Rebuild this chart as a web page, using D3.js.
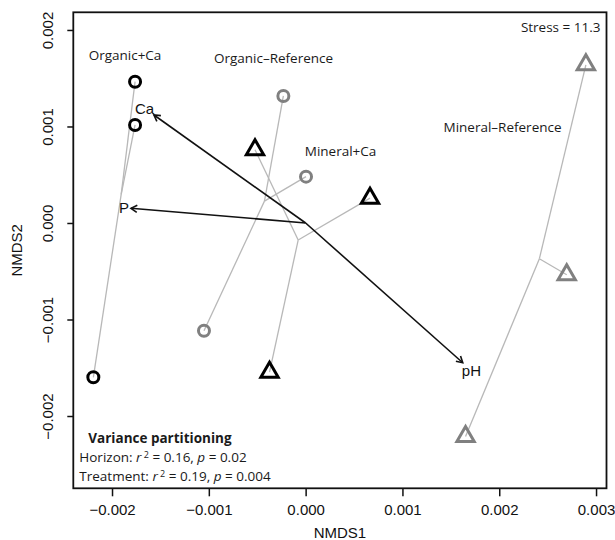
<!DOCTYPE html>
<html><head><meta charset="utf-8">
<script src="https://cdn.jsdelivr.net/npm/d3@7"></script>
<style>html,body{margin:0;padding:0;background:#fff}</style>
</head><body><svg id="c" width="615" height="540"></svg>
<script>
// ---------- data ----------
const groupNames = ["Organic+Ca", "Organic–Reference", "Mineral+Ca", "Mineral–Reference"];
const sampleGroup = [0, 0, 0, 1, 1, 1, 2, 2, 2, 3, 3, 3];
const nmds1 = [-0.001762, -0.001762, -0.002193, -0.000230, 0.000004, -0.001050, -0.000523, 0.000665, -0.000373, 0.002895, 0.002697, 0.001652];
const nmds2 = [0.001464, 0.001016, -0.001599, 0.001316, 0.000480, -0.001116, 0.000759, 0.000257, -0.001546, 0.001639, -0.000537, -0.002212];
const envVars = ["Ca", "P", "pH"];
const envNMDS1 = [-0.001567, -0.001804, 0.001623];
const envNMDS2 = [0.001119, 0.000152, -0.001448];
const xTicks = [-0.002, -0.001, 0, 0.001, 0.002, 0.003];
const yTicks = [-0.002, -0.001, 0, 0.001, 0.002];
const groupLabelX = [-0.001866, -0.000332, 0.000361, 0.002034];
const groupLabelY = [0.001741, 0.001710, 0.000739, 0.000995];
const stressLabel = "Stress = 11.3";
const varTitle = "Variance partitioning";
const varTerms = ["Horizon", "Treatment"];
const varR2 = ["0.16", "0.19"];
const varP = ["0.02", "0.004"];

// ---------- layout ----------
const L = 73.3, R = 606.5, T = 12.3, B = 488.3;
const svg = d3.select("#c");
const x = d3.scaleLinear().domain([-0.002400, 0.003108]).range([L, R]);
const y = d3.scaleLinear().domain([-0.002749, 0.002183]).range([B, T]);
const axisFont = "'Liberation Sans', Arial, Helvetica, sans-serif";
const annFont = "'Open Sans', 'Noto Sans', sans-serif";
const fmt = d3.format(".3f");

// group styles
const isTriangle = g => g >= 2;
const colorOf = g => (g === 0 || g === 2) ? "#000" : "#808080";

// spider lines
const centroids = groupNames.map((_, g) => {
  const idx = sampleGroup.map((s, i) => s === g ? i : -1).filter(i => i >= 0);
  return [d3.mean(idx, i => nmds1[i]), d3.mean(idx, i => nmds2[i])];
});
svg.append("g").selectAll("line").data(sampleGroup.map((g, i) => i)).join("line")
  .attr("x1", i => x(centroids[sampleGroup[i]][0]))
  .attr("y1", i => y(centroids[sampleGroup[i]][1]))
  .attr("x2", i => x(nmds1[i]))
  .attr("y2", i => y(nmds2[i]))
  .attr("stroke", "#b8b8b8").attr("stroke-width", 1.3);

// env arrows
const ag = svg.append("g");
envVars.forEach((v, k) => {
  const x0 = x(0), y0 = y(0), x1 = x(envNMDS1[k]), y1 = y(envNMDS2[k]);
  ag.append("line").attr("x1", x0).attr("y1", y0).attr("x2", x1).attr("y2", y1)
    .attr("stroke", "#111").attr("stroke-width", 1.6);
  const ang = Math.atan2(y1 - y0, x1 - x0), hl = 7, ha = Math.PI / 6;
  const p = [[x1 - hl * Math.cos(ang - ha), y1 - hl * Math.sin(ang - ha)], [x1, y1],
             [x1 - hl * Math.cos(ang + ha), y1 - hl * Math.sin(ang + ha)]];
  ag.append("path").attr("d", d3.line()(p)).attr("fill", "none")
    .attr("stroke", "#111").attr("stroke-width", 1.6);
  const t = ag.append("text").text(v).attr("font-family", axisFont).attr("font-size", 15)
    .attr("fill", "#111").attr("text-anchor", "middle").attr("dy", "0.35em");
  const w = t.node().getComputedTextLength();
  const len = Math.hypot(x1 - x0, y1 - y0), d = w / 2 + 2;
  t.attr("x", x1 + (x1 - x0) / len * d).attr("y", y1 + (y1 - y0) / len * d);
});

// points
const pg = svg.append("g");
sampleGroup.forEach((g, i) => {
  const cx = x(nmds1[i]), cy = y(nmds2[i]);
  if (isTriangle(g)) {
    const r = 10;
    pg.append("path")
      .attr("d", `M${cx},${cy - r}L${cx + 0.866 * r},${cy + r / 2}L${cx - 0.866 * r},${cy + r / 2}Z`)
      .attr("fill", "none").attr("stroke", colorOf(g)).attr("stroke-width", 3)
      .attr("stroke-linejoin", "miter");
  } else {
    pg.append("circle").attr("cx", cx).attr("cy", cy).attr("r", 5.5)
      .attr("fill", "none").attr("stroke", colorOf(g)).attr("stroke-width", 3);
  }
});

// group labels
svg.append("g").selectAll("text").data(groupNames).join("text")
  .attr("x", (d, i) => x(groupLabelX[i])).attr("y", (d, i) => y(groupLabelY[i]))
  .attr("dy", "0.35em").attr("text-anchor", "middle")
  .attr("font-family", annFont).attr("font-size", 13.5).attr("fill", "#1a1a1a")
  .text(d => d);

// stress
svg.append("text").attr("x", R - 6).attr("y", T + 15).attr("dy", "0.35em")
  .attr("text-anchor", "end").attr("font-family", annFont).attr("font-size", 13.5)
  .attr("fill", "#1a1a1a").text(stressLabel);

// variance partitioning
svg.append("text").attr("x", L + 15).attr("y", 438.3).attr("dy", "0.35em")
  .attr("font-family", annFont).attr("font-size", 13.5).attr("font-weight", 700)
  .attr("fill", "#1a1a1a").text(varTitle);
varTerms.forEach((term, k) => {
  const t = svg.append("text").attr("x", L + 6).attr("y", 457.3 + k * 19.3).attr("dy", "0.35em")
    .attr("font-family", annFont).attr("font-size", 13.5).attr("fill", "#1a1a1a");
  t.append("tspan").text(term + ": ");
  t.append("tspan").attr("font-style", "italic").text("r");
  t.append("tspan").attr("font-size", 9).attr("dy", "-0.45em").text(" 2");
  t.append("tspan").attr("dy", "0.3em").text(" = " + varR2[k] + ", ");
  t.append("tspan").attr("font-style", "italic").text("p");
  t.append("tspan").text(" = " + varP[k]);
});

// axes
const xa = svg.append("g").attr("transform", `translate(0,${B})`)
  .call(d3.axisBottom(x).tickValues(xTicks).tickFormat(fmt).tickSize(8).tickPadding(8));
xa.select(".domain").remove();
xa.selectAll("line").attr("stroke", "#111").attr("stroke-width", 1.5);
xa.selectAll("text").attr("font-family", axisFont).attr("font-size", 15).attr("fill", "#111");

const ya = svg.append("g").attr("transform", `translate(${L},0)`)
  .call(d3.axisLeft(y).tickValues(yTicks).tickFormat(fmt).tickSize(6));
ya.select(".domain").remove();
ya.selectAll("line").attr("stroke", "#111").attr("stroke-width", 1.5);
ya.selectAll("text").attr("font-family", axisFont).attr("font-size", 15).attr("fill", "#111")
  .attr("x", 0).attr("dy", "0.35em").attr("text-anchor", "middle")
  .attr("transform", `translate(${47.7 - L},0) rotate(-90)`);

// frame
svg.append("rect").attr("x", L).attr("y", T).attr("width", R - L).attr("height", B - T)
  .attr("fill", "none").attr("stroke", "#111").attr("stroke-width", 1.8);

// axis titles
svg.append("text").attr("x", (L + R) / 2).attr("y", 533).attr("dy", "0.35em")
  .attr("text-anchor", "middle").attr("font-family", axisFont).attr("font-size", 15)
  .attr("fill", "#111").text("NMDS1");
svg.append("text").attr("transform", `translate(17,${(T + B) / 2}) rotate(-90)`)
  .attr("dy", "0.35em").attr("text-anchor", "middle").attr("font-family", axisFont)
  .attr("font-size", 15).attr("fill", "#111").text("NMDS2");
</script></body></html>
